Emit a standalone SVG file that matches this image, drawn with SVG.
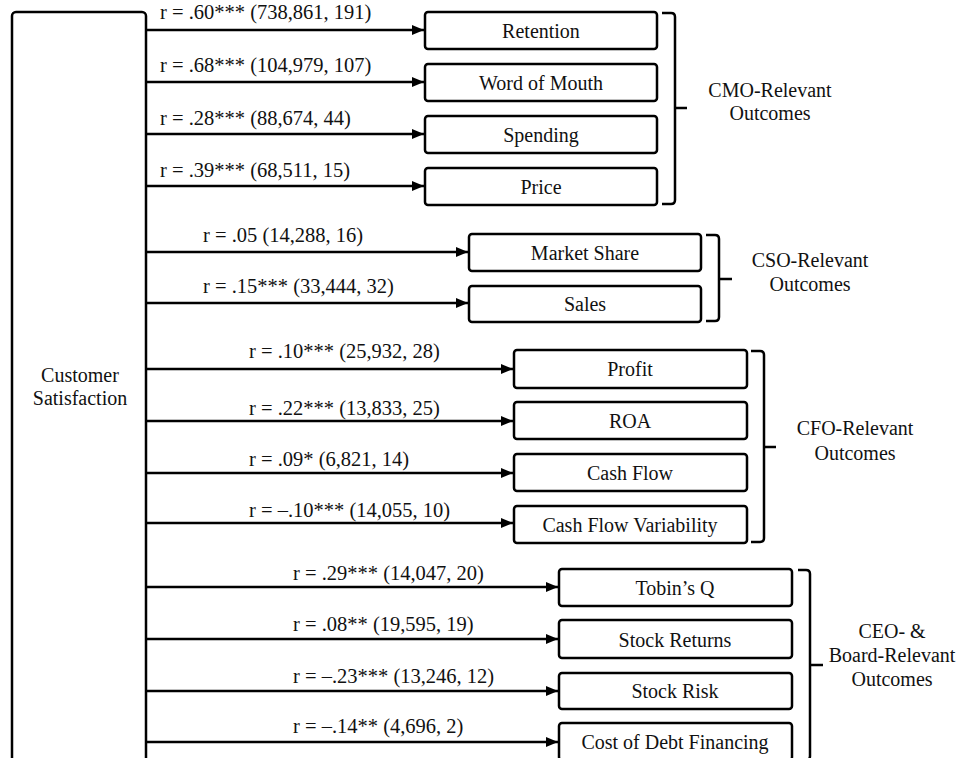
<svg xmlns="http://www.w3.org/2000/svg" width="960" height="758" viewBox="0 0 960 758">
<defs>
<marker id="ah" markerUnits="userSpaceOnUse" markerWidth="13" markerHeight="11" refX="12" refY="5" orient="auto">
<path d="M0,0 L12,5 L0,10 z" fill="#000"/>
</marker>
<style>
.box{fill:#fff;stroke:#000;stroke-width:2.5}
.t{font-family:"Liberation Serif","Times New Roman",serif;font-size:20px;fill:#111;text-anchor:middle}
.lbl{font-family:"Liberation Serif","Times New Roman",serif;font-size:20.5px;fill:#111}
.c{fill:none;stroke:#000;stroke-width:2.5;marker-end:url(#ah)}
.br{fill:none;stroke:#000;stroke-width:2.5}
</style>
</defs>
<rect width="960" height="758" fill="#fff"/>

<g id="customer-satisfaction">
<rect class="box" x="12" y="12" width="134" height="770" rx="4"/>
<text class="t" x="80" y="382">Customer</text>
<text class="t" x="80" y="405">Satisfaction</text>
</g>

<g id="connectors">
<line class="c" x1="146" y1="30" x2="424" y2="30"/>
<line class="c" x1="146" y1="82" x2="424" y2="82"/>
<line class="c" x1="146" y1="134" x2="424" y2="134"/>
<line class="c" x1="146" y1="186" x2="424" y2="186"/>
<line class="c" x1="146" y1="252" x2="468" y2="252"/>
<line class="c" x1="146" y1="303" x2="468" y2="303"/>
<line class="c" x1="146" y1="369" x2="513" y2="369"/>
<line class="c" x1="146" y1="421" x2="513" y2="421"/>
<line class="c" x1="146" y1="473" x2="513" y2="473"/>
<line class="c" x1="146" y1="523" x2="513" y2="523"/>
<line class="c" x1="146" y1="587" x2="558" y2="587"/>
<line class="c" x1="146" y1="639" x2="558" y2="639"/>
<line class="c" x1="146" y1="691" x2="558" y2="691"/>
<line class="c" x1="146" y1="742" x2="558" y2="742"/>
<text class="lbl" x="160" y="19">r = .60*** (738,861, 191)</text>
<text class="lbl" x="160" y="72">r = .68*** (104,979, 107)</text>
<text class="lbl" x="160" y="125">r = .28*** (88,674, 44)</text>
<text class="lbl" x="160" y="177">r = .39*** (68,511, 15)</text>
<text class="lbl" x="203" y="242">r = .05 (14,288, 16)</text>
<text class="lbl" x="203" y="293">r = .15*** (33,444, 32)</text>
<text class="lbl" x="249" y="358">r = .10*** (25,932, 28)</text>
<text class="lbl" x="249" y="415">r = .22*** (13,833, 25)</text>
<text class="lbl" x="249" y="466">r = .09* (6,821, 14)</text>
<text class="lbl" x="249" y="517">r = –.10*** (14,055, 10)</text>
<text class="lbl" x="293" y="580">r = .29*** (14,047, 20)</text>
<text class="lbl" x="293" y="631">r = .08** (19,595, 19)</text>
<text class="lbl" x="293" y="683">r = –.23*** (13,246, 12)</text>
<text class="lbl" x="293" y="733">r = –.14** (4,696, 2)</text>
</g>

<g id="retention"><rect class="box" x="425" y="12" width="232" height="37" rx="3"/><text class="t" x="541" y="38">Retention</text></g>
<g id="word-of-mouth"><rect class="box" x="425" y="64" width="232" height="37" rx="3"/><text class="t" x="541" y="90">Word of Mouth</text></g>
<g id="spending"><rect class="box" x="425" y="116" width="232" height="37" rx="3"/><text class="t" x="541" y="142">Spending</text></g>
<g id="price"><rect class="box" x="425" y="168" width="232" height="37" rx="3"/><text class="t" x="541" y="194">Price</text></g>

<g id="market-share"><rect class="box" x="469" y="234" width="232" height="37" rx="3"/><text class="t" x="585" y="260">Market Share</text></g>
<g id="sales"><rect class="box" x="469" y="286" width="232" height="36" rx="3"/><text class="t" x="585" y="311">Sales</text></g>

<g id="profit"><rect class="box" x="514" y="350" width="233" height="38" rx="3"/><text class="t" x="630" y="376">Profit</text></g>
<g id="roa"><rect class="box" x="514" y="402" width="233" height="37" rx="3"/><text class="t" x="630" y="428">ROA</text></g>
<g id="cash-flow"><rect class="box" x="514" y="454" width="233" height="37" rx="3"/><text class="t" x="630" y="480">Cash Flow</text></g>
<g id="cash-flow-variability"><rect class="box" x="514" y="506" width="233" height="37" rx="3"/><text class="t" x="630" y="532">Cash Flow Variability</text></g>

<g id="tobins-q"><rect class="box" x="559" y="569" width="233" height="37" rx="3"/><text class="t" x="675" y="595">Tobin’s Q</text></g>
<g id="stock-returns"><rect class="box" x="559" y="620" width="233" height="38" rx="3"/><text class="t" x="675" y="647">Stock Returns</text></g>
<g id="stock-risk"><rect class="box" x="559" y="673" width="233" height="36" rx="3"/><text class="t" x="675" y="698">Stock Risk</text></g>
<g id="cost-of-debt-financing"><rect class="box" x="559" y="723" width="233" height="37" rx="3"/><text class="t" x="675" y="749">Cost of Debt Financing</text></g>

<g id="cmo-group">
<path class="br" d="M662,13 H671 Q675,13 675,17 V200 Q675,204 671,204 H662 M675,108 H687"/>
<text class="t" x="770" y="97">CMO-Relevant</text>
<text class="t" x="770" y="120">Outcomes</text>
</g>
<g id="cso-group">
<path class="br" d="M706,235 H715 Q719,235 719,239 V317 Q719,321 715,321 H706 M719,279 H732"/>
<text class="t" x="810" y="267">CSO-Relevant</text>
<text class="t" x="810" y="291">Outcomes</text>
</g>
<g id="cfo-group">
<path class="br" d="M751,351 H760 Q764,351 764,355 V538 Q764,542 760,542 H751 M764,447 H776"/>
<text class="t" x="855" y="435">CFO-Relevant</text>
<text class="t" x="855" y="460">Outcomes</text>
</g>
<g id="ceo-group">
<path class="br" d="M798,570 H806 Q810,570 810,574 V756 Q810,760 806,760 H798 M810,665 H823"/>
<text class="t" x="892" y="638">CEO- &amp;</text>
<text class="t" x="892" y="662">Board-Relevant</text>
<text class="t" x="892" y="686">Outcomes</text>
</g>
</svg>
